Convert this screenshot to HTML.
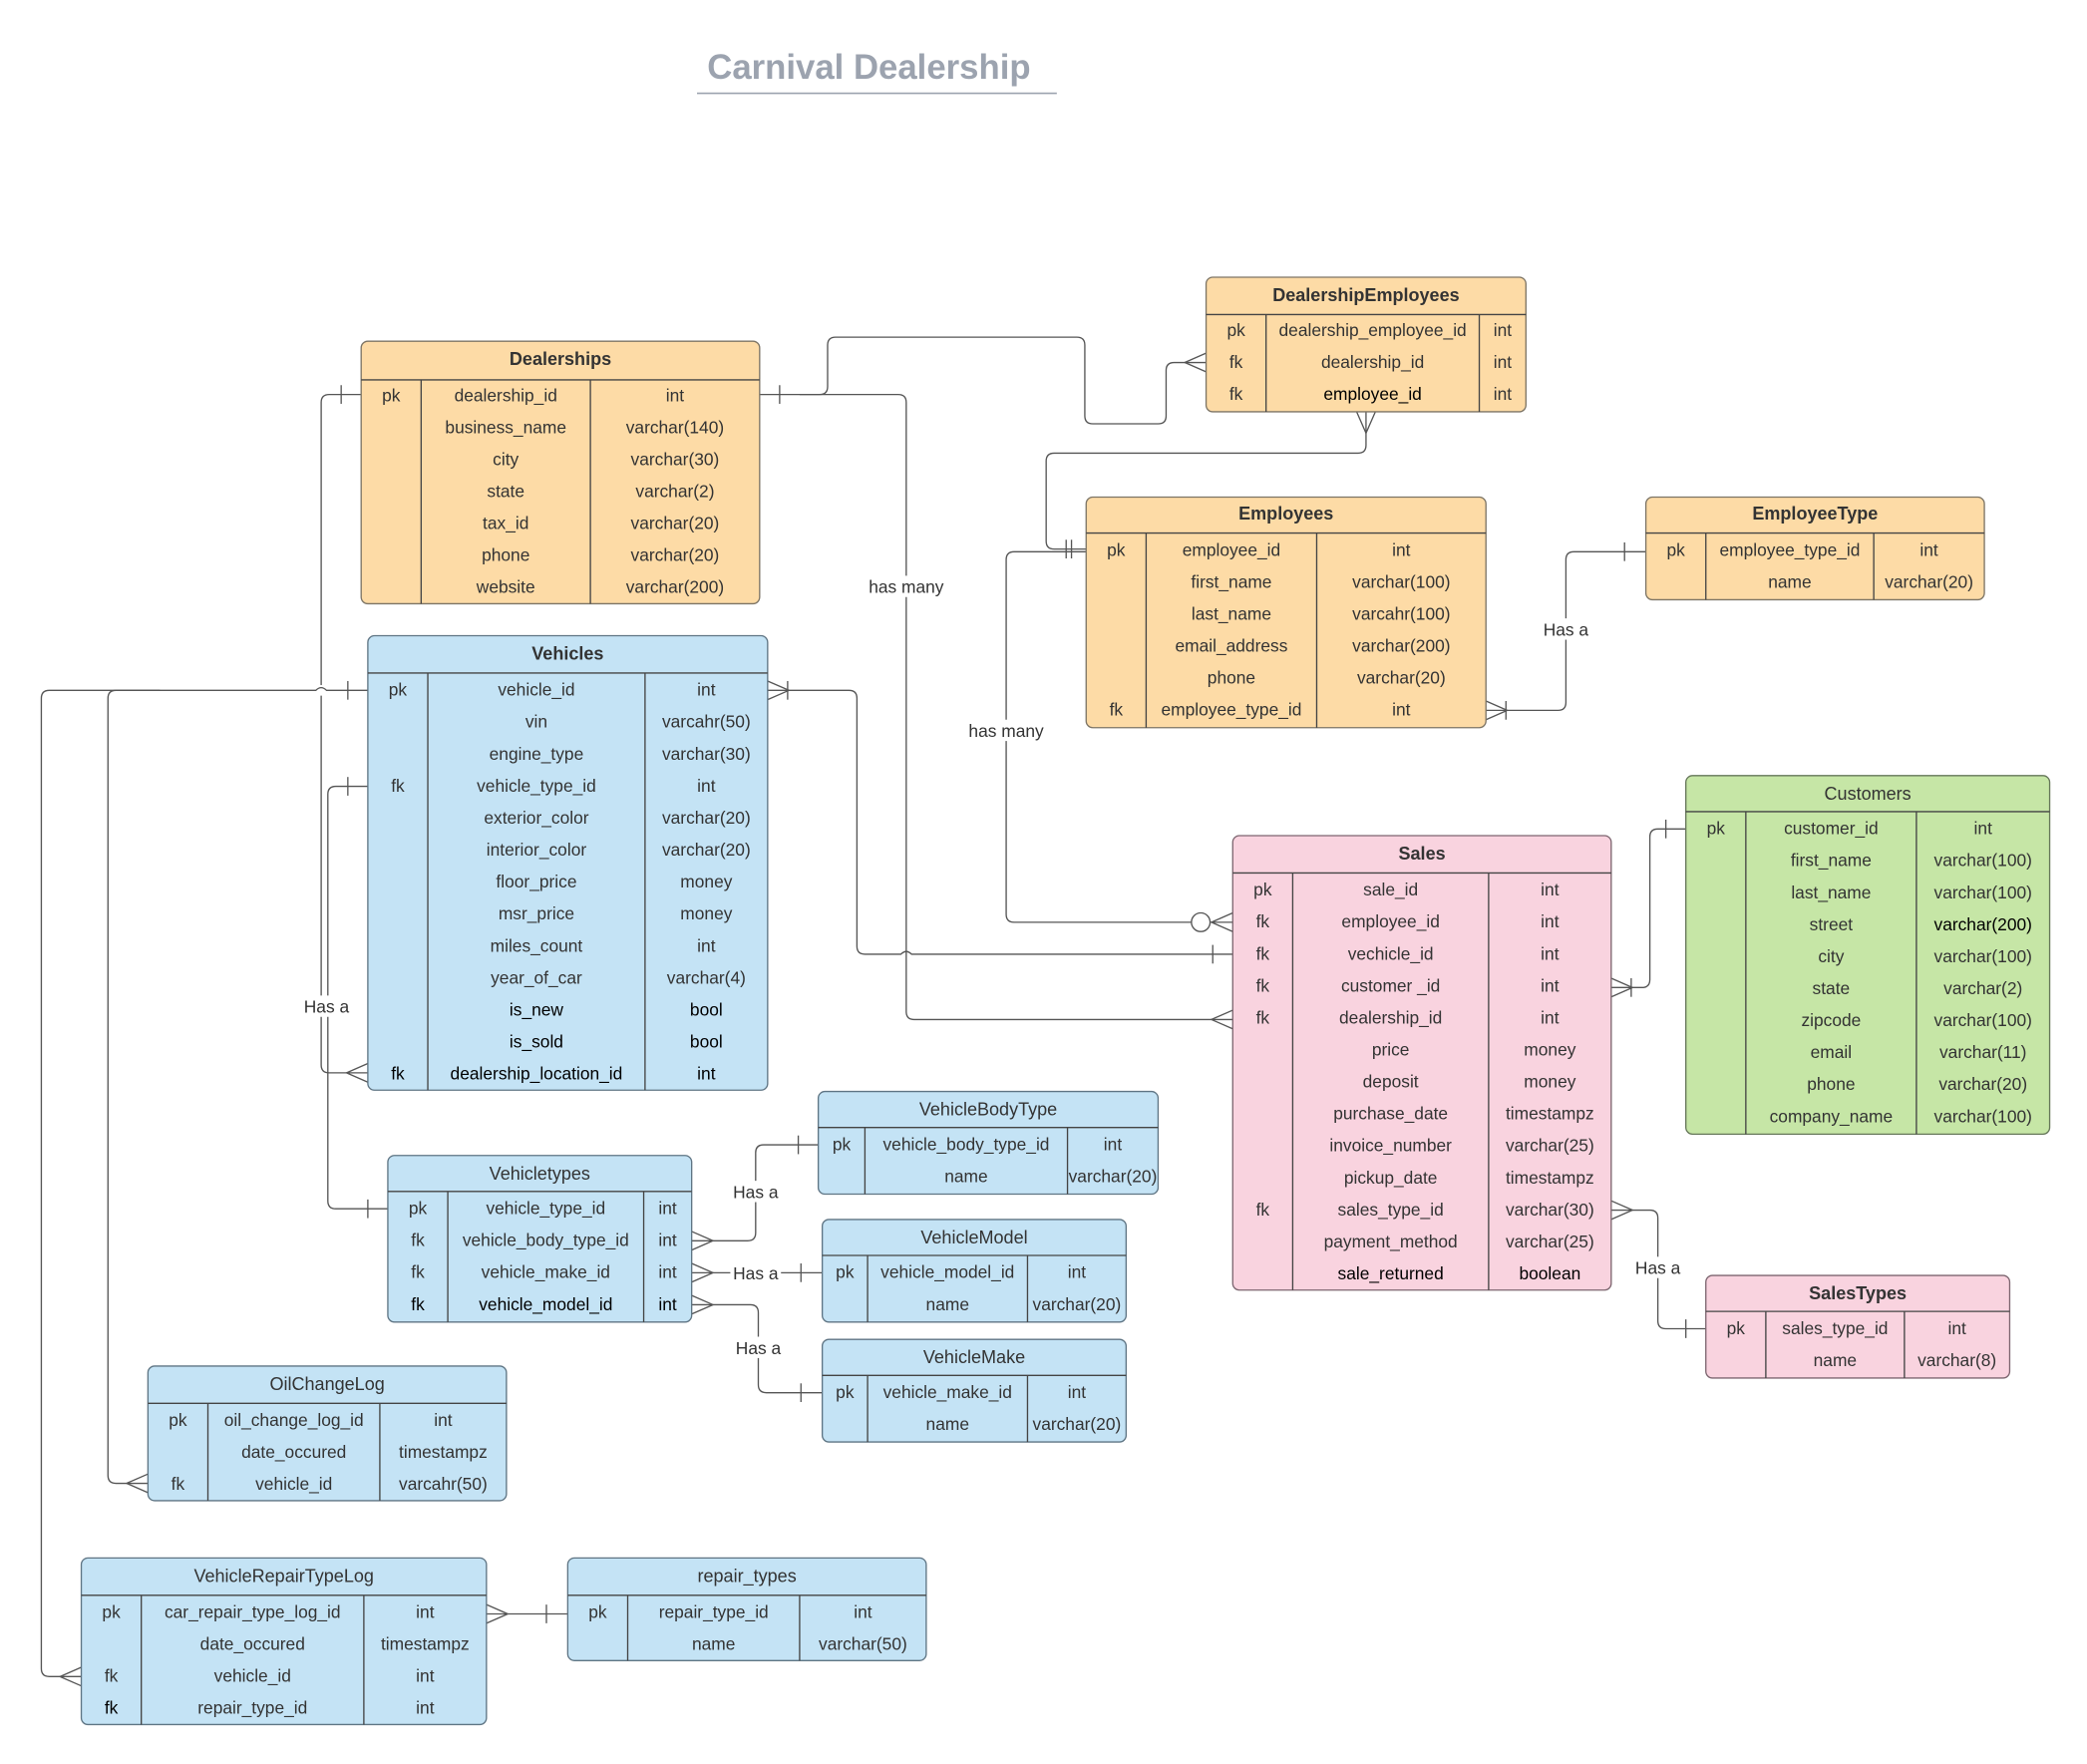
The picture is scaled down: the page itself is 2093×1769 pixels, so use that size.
<!DOCTYPE html>
<html><head><meta charset="utf-8"><style>
html,body{margin:0;padding:0;background:#fff}
svg{display:block}
text{font-family:"Liberation Sans",Arial,sans-serif;font-size:13px;fill:#333;text-anchor:middle}
.h{font-size:13.5px}
.b{font-weight:bold}
.o{fill:#FDDBA6;stroke:#7d7566}
.bl{fill:#C4E3F5;stroke:#5f7584}
.p{fill:#F9D3DF;stroke:#7d6670}
.g{fill:#C6E6A6;stroke:#66775a}
.ln{stroke:#444;stroke-width:1;fill:none}
.tl{stroke:#555;stroke-width:1;fill:none}
.lbl{fill:#fff;stroke:none}
</style></head><body>
<svg width="2093" height="1769" viewBox="0 0 1566 1323.6" xmlns="http://www.w3.org/2000/svg">
<text x="652" y="59" class="b" style="font-size:26px;fill:#9ca3af">Carnival Dealership</text>
<line x1="523" y1="70" x2="793" y2="70" stroke="#9ca3af" stroke-width="1.2"/>

<!-- connectors -->
<g class="tl">
<!-- Dealerships -> Sales dealership_id -->
<path d="M570 296 H674 Q680 296 680 302 V759 Q680 765 686 765 H925"/>
<path d="M925 758 L909 765 L925 772"/>
<line x1="585" y1="289" x2="585" y2="303"/>
<!-- Dealerships -> DealershipEmployees -->
<path d="M600 296 H615 Q621 296 621 290 V259 Q621 253 627 253 H808 Q814 253 814 259 V312 Q814 318 820 318 H869 Q875 318 875 312 V278 Q875 272 881 272 H905"/>
<path d="M905 265 L889 272 L905 279"/>
<!-- DealershipEmployees -> Employees -->
<path d="M1025 309 V334 Q1025 340 1019 340 H791 Q785 340 785 346 V406 Q785 412 791 412 H815"/>
<path d="M1018 309 L1025 325 L1032 309"/>
<line x1="800" y1="405" x2="800" y2="419"/><line x1="804" y1="405" x2="804" y2="419"/>
<!-- Employees -> Sales employee_id -->
<path d="M815 414 H761 Q755 414 755 420 V686 Q755 692 761 692 H894"/>
<circle cx="901" cy="692" r="7" fill="#fff"/>
<path d="M908 692 H925 M925 685 L909 692 L925 699"/>
<!-- Employees -> EmployeeType -->
<path d="M1115 533 H1169 Q1175 533 1175 527 V420 Q1175 414 1181 414 H1235"/>
<path d="M1115 526 L1131 533 L1115 540"/><line x1="1130" y1="526" x2="1130" y2="540"/>
<line x1="1219" y1="407" x2="1219" y2="421"/>
<!-- Customers -> Sales -->
<path d="M1265 622 H1244 Q1238 622 1238 628 V735 Q1238 741 1232 741 H1209"/>
<line x1="1250" y1="615" x2="1250" y2="629"/>
<path d="M1209 734 L1225 741 L1209 748"/><line x1="1224" y1="734" x2="1224" y2="748"/>
<!-- Sales -> SalesTypes -->
<path d="M1209 908 H1238 Q1244 908 1244 914 V991 Q1244 997 1250 997 H1280"/>
<path d="M1209 901 L1225 908 L1209 915"/>
<line x1="1265" y1="990" x2="1265" y2="1004"/>
<!-- Vehicles -> Sales vehicle_id -->
<path d="M576 518 H637 Q643 518 643 524 V710 Q643 716 649 716 H676 Q680 712 684 716 H925"/>
<path d="M576 511 L592 518 L576 525"/><line x1="591" y1="511" x2="591" y2="525"/>
<line x1="910" y1="709" x2="910" y2="723"/>
<!-- Vehicles pk -> logs -->
<path d="M276 518 H245 Q241 514 237 518 H37 Q31 518 31 524 V1252 Q31 1258 37 1258 H61"/>
<path d="M61 1251 L45 1258 L61 1265"/>
<path d="M120 518 H87 Q81 518 81 524 V1107 Q81 1113 87 1113 H111"/>
<path d="M111 1106 L95 1113 L111 1120"/>
<line x1="261" y1="511" x2="261" y2="525"/>
<!-- Dealerships -> Vehicles dealership_location_id -->
<path d="M271 296 H247 Q241 296 241 302 V514 M241 522 V799 Q241 805 247 805 H276"/>
<line x1="256" y1="289" x2="256" y2="303"/>
<path d="M276 798 L260 805 L276 812"/>
<!-- Vehicles vehicle_type_id -> Vehicletypes -->
<path d="M276 590 H252 Q246 590 246 596 V901 Q246 907 252 907 H291"/>
<line x1="261" y1="583" x2="261" y2="597"/>
<line x1="276" y1="900" x2="276" y2="914"/>
<!-- Vehicletypes -> VehicleBodyType -->
<path d="M519 931 H561 Q567 931 567 925 V865 Q567 859 573 859 H614"/>
<path d="M519 924 L535 931 L519 938"/>
<line x1="599" y1="852" x2="599" y2="866"/>
<!-- Vehicletypes -> VehicleModel -->
<path d="M519 955 H617"/>
<path d="M519 948 L535 955 L519 962"/>
<line x1="601" y1="948" x2="601" y2="962"/>
<!-- Vehicletypes -> VehicleMake -->
<path d="M519 979 H563 Q569 979 569 985 V1039 Q569 1045 575 1045 H617"/>
<path d="M519 972 L535 979 L519 986"/>
<line x1="601" y1="1038" x2="601" y2="1052"/>
<!-- VRTL -> repair_types -->
<path d="M365 1211 H426"/>
<path d="M365 1204 L381 1211 L365 1218"/>
<line x1="410" y1="1204" x2="410" y2="1218"/>
</g>
<!-- connector labels -->
<rect class="lbl" x="650" y="432" width="61" height="16"/><text x="680" y="445">has many</text>
<rect class="lbl" x="725" y="540" width="61" height="16"/><text x="755" y="553">has many</text>
<rect class="lbl" x="1156" y="464" width="38" height="16"/><text x="1175" y="477">Has a</text>
<rect class="lbl" x="1225" y="943" width="38" height="16"/><text x="1244" y="956">Has a</text>
<rect class="lbl" x="226" y="747" width="38" height="16"/><text x="245" y="760">Has a</text>
<rect class="lbl" x="548" y="886" width="38" height="16"/><text x="567" y="899">Has a</text>
<rect class="lbl" x="548" y="947" width="38" height="16"/><text x="567" y="960">Has a</text>
<rect class="lbl" x="550" y="1003" width="38" height="16"/><text x="569" y="1016">Has a</text>

<!-- Dealerships -->
<rect class="o" x="271" y="256" width="299" height="197" rx="5"/>
<path class="ln" d="M271 285 H570 M316 285 V453 M443 285 V453"/>
<text x="420.5" y="274" class="b h">Dealerships</text>
<text x="293.5" y="301">pk</text><text x="379.5" y="301">dealership_id</text><text x="506.5" y="301">int</text>
<text x="379.5" y="325">business_name</text><text x="506.5" y="325">varchar(140)</text>
<text x="379.5" y="349">city</text><text x="506.5" y="349">varchar(30)</text>
<text x="379.5" y="373">state</text><text x="506.5" y="373">varchar(2)</text>
<text x="379.5" y="397">tax_id</text><text x="506.5" y="397">varchar(20)</text>
<text x="379.5" y="421">phone</text><text x="506.5" y="421">varchar(20)</text>
<text x="379.5" y="445">website</text><text x="506.5" y="445">varchar(200)</text>

<!-- DealershipEmployees -->
<rect class="o" x="905" y="208" width="240" height="101" rx="5"/>
<path class="ln" d="M905 236 H1145 M950 236 V309 M1110 236 V309"/>
<text x="1025" y="226" class="b h">DealershipEmployees</text>
<text x="927.5" y="252">pk</text><text x="1030" y="252">dealership_employee_id</text><text x="1127.5" y="252">int</text>
<text x="927.5" y="276">fk</text><text x="1030" y="276">dealership_id</text><text x="1127.5" y="276">int</text>
<text x="927.5" y="300">fk</text><text x="1030" y="300" style="fill:#000">employee_id</text><text x="1127.5" y="300">int</text>

<!-- Employees -->
<rect class="o" x="815" y="373" width="300" height="173" rx="5"/>
<path class="ln" d="M815 400 H1115 M860 400 V546 M988 400 V546"/>
<text x="965" y="390" class="b h">Employees</text>
<text x="837.5" y="417">pk</text><text x="924" y="417">employee_id</text><text x="1051.5" y="417">int</text>
<text x="924" y="441">first_name</text><text x="1051.5" y="441">varchar(100)</text>
<text x="924" y="465">last_name</text><text x="1051.5" y="465">varcahr(100)</text>
<text x="924" y="489">email_address</text><text x="1051.5" y="489">varchar(200)</text>
<text x="924" y="513">phone</text><text x="1051.5" y="513">varchar(20)</text>
<text x="837.5" y="537">fk</text><text x="924" y="537">employee_type_id</text><text x="1051.5" y="537">int</text>

<!-- EmployeeType -->
<rect class="o" x="1235" y="373" width="254" height="77" rx="5"/>
<path class="ln" d="M1235 400 H1489 M1280 400 V450 M1406 400 V450"/>
<text x="1362" y="390" class="b h">EmployeeType</text>
<text x="1257.5" y="417">pk</text><text x="1343" y="417">employee_type_id</text><text x="1447.5" y="417">int</text>
<text x="1343" y="441">name</text><text x="1447.5" y="441">varchar(20)</text>

<!-- Vehicles -->
<rect class="bl" x="276" y="477" width="300" height="341" rx="5"/>
<path class="ln" d="M276 505 H576 M321 505 V818 M484 505 V818"/>
<text x="426" y="495" class="b h">Vehicles</text>
<text x="298.5" y="522">pk</text><text x="402.5" y="522">vehicle_id</text><text x="530" y="522">int</text>
<text x="402.5" y="546">vin</text><text x="530" y="546">varcahr(50)</text>
<text x="402.5" y="570">engine_type</text><text x="530" y="570">varchar(30)</text>
<text x="298.5" y="594">fk</text><text x="402.5" y="594">vehicle_type_id</text><text x="530" y="594">int</text>
<text x="402.5" y="618">exterior_color</text><text x="530" y="618">varchar(20)</text>
<text x="402.5" y="642">interior_color</text><text x="530" y="642">varchar(20)</text>
<text x="402.5" y="666">floor_price</text><text x="530" y="666">money</text>
<text x="402.5" y="690">msr_price</text><text x="530" y="690">money</text>
<text x="402.5" y="714">miles_count</text><text x="530" y="714">int</text>
<text x="402.5" y="738">year_of_car</text><text x="530" y="738">varchar(4)</text>
<text x="402.5" y="762" style="fill:#000">is_new</text><text x="530" y="762" style="fill:#000">bool</text>
<text x="402.5" y="786" style="fill:#000">is_sold</text><text x="530" y="786" style="fill:#000">bool</text>
<text x="298.5" y="810" style="fill:#000">fk</text><text x="402.5" y="810" style="fill:#000">dealership_location_id</text><text x="530" y="810" style="fill:#000">int</text>

<!-- Customers -->
<rect class="g" x="1265" y="582" width="273" height="269" rx="5"/>
<path class="ln" d="M1265 609 H1538 M1310 609 V851 M1438 609 V851"/>
<text x="1401.5" y="600" class="h">Customers</text>
<text x="1287.5" y="626">pk</text><text x="1374" y="626">customer_id</text><text x="1488" y="626">int</text>
<text x="1374" y="650">first_name</text><text x="1488" y="650">varchar(100)</text>
<text x="1374" y="674">last_name</text><text x="1488" y="674">varchar(100)</text>
<text x="1374" y="698">street</text><text x="1488" y="698" style="fill:#000">varchar(200)</text>
<text x="1374" y="722">city</text><text x="1488" y="722">varchar(100)</text>
<text x="1374" y="746">state</text><text x="1488" y="746">varchar(2)</text>
<text x="1374" y="770">zipcode</text><text x="1488" y="770">varchar(100)</text>
<text x="1374" y="794">email</text><text x="1488" y="794">varchar(11)</text>
<text x="1374" y="818">phone</text><text x="1488" y="818">varchar(20)</text>
<text x="1374" y="842">company_name</text><text x="1488" y="842">varchar(100)</text>

<!-- Sales -->
<rect class="p" x="925" y="627" width="284" height="341" rx="5"/>
<path class="ln" d="M925 655 H1209 M970 655 V968 M1117 655 V968"/>
<text x="1067" y="645" class="b h">Sales</text>
<text x="947.5" y="672">pk</text><text x="1043.5" y="672">sale_id</text><text x="1163" y="672">int</text>
<text x="947.5" y="696">fk</text><text x="1043.5" y="696">employee_id</text><text x="1163" y="696">int</text>
<text x="947.5" y="720">fk</text><text x="1043.5" y="720">vechicle_id</text><text x="1163" y="720">int</text>
<text x="947.5" y="744">fk</text><text x="1043.5" y="744">customer _id</text><text x="1163" y="744">int</text>
<text x="947.5" y="768">fk</text><text x="1043.5" y="768">dealership_id</text><text x="1163" y="768">int</text>
<text x="1043.5" y="792">price</text><text x="1163" y="792">money</text>
<text x="1043.5" y="816">deposit</text><text x="1163" y="816">money</text>
<text x="1043.5" y="840">purchase_date</text><text x="1163" y="840">timestampz</text>
<text x="1043.5" y="864">invoice_number</text><text x="1163" y="864">varchar(25)</text>
<text x="1043.5" y="888">pickup_date</text><text x="1163" y="888">timestampz</text>
<text x="947.5" y="912">fk</text><text x="1043.5" y="912">sales_type_id</text><text x="1163" y="912">varchar(30)</text>
<text x="1043.5" y="936">payment_method</text><text x="1163" y="936">varchar(25)</text>
<text x="1043.5" y="960" style="fill:#000">sale_returned</text><text x="1163" y="960" style="fill:#000">boolean</text>

<!-- VehicleBodyType -->
<rect class="bl" x="614" y="819" width="255" height="77" rx="5"/>
<path class="ln" d="M614 846 H869 M649 846 V896 M801 846 V896"/>
<text x="741.5" y="837" class="h">VehicleBodyType</text>
<text x="631.5" y="863">pk</text><text x="725" y="863">vehicle_body_type_id</text><text x="835" y="863">int</text>
<text x="725" y="887">name</text><text x="835" y="887">varchar(20)</text>

<!-- Vehicletypes -->
<rect class="bl" x="291" y="867" width="228" height="125" rx="5"/>
<path class="ln" d="M291 894 H519 M336 894 V992 M483 894 V992"/>
<text x="405" y="885" class="h">Vehicletypes</text>
<text x="313.5" y="911">pk</text><text x="409.5" y="911">vehicle_type_id</text><text x="501" y="911">int</text>
<text x="313.5" y="935">fk</text><text x="409.5" y="935">vehicle_body_type_id</text><text x="501" y="935">int</text>
<text x="313.5" y="959">fk</text><text x="409.5" y="959">vehicle_make_id</text><text x="501" y="959">int</text>
<text x="313.5" y="983" style="fill:#000">fk</text><text x="409.5" y="983" style="fill:#000">vehicle_model_id</text><text x="501" y="983" style="fill:#000">int</text>

<!-- VehicleModel -->
<rect class="bl" x="617" y="915" width="228" height="77" rx="5"/>
<path class="ln" d="M617 942 H845 M651 942 V992 M771 942 V992"/>
<text x="731" y="933" class="h">VehicleModel</text>
<text x="634" y="959">pk</text><text x="711" y="959">vehicle_model_id</text><text x="808" y="959">int</text>
<text x="711" y="983">name</text><text x="808" y="983">varchar(20)</text>

<!-- VehicleMake -->
<rect class="bl" x="617" y="1005" width="228" height="77" rx="5"/>
<path class="ln" d="M617 1032 H845 M651 1032 V1082 M771 1032 V1082"/>
<text x="731" y="1023" class="h">VehicleMake</text>
<text x="634" y="1049">pk</text><text x="711" y="1049">vehicle_make_id</text><text x="808" y="1049">int</text>
<text x="711" y="1073">name</text><text x="808" y="1073">varchar(20)</text>

<!-- SalesTypes -->
<rect class="p" x="1280" y="957" width="228" height="77" rx="5"/>
<path class="ln" d="M1280 984 H1508 M1325 984 V1034 M1429 984 V1034"/>
<text x="1394" y="975" class="b h">SalesTypes</text>
<text x="1302.5" y="1001">pk</text><text x="1377" y="1001">sales_type_id</text><text x="1468.5" y="1001">int</text>
<text x="1377" y="1025">name</text><text x="1468.5" y="1025">varchar(8)</text>

<!-- OilChangeLog -->
<rect class="bl" x="111" y="1025" width="269" height="101" rx="5"/>
<path class="ln" d="M111 1053 H380 M156 1053 V1126 M285 1053 V1126"/>
<text x="245.5" y="1043" class="h">OilChangeLog</text>
<text x="133.5" y="1070">pk</text><text x="220.5" y="1070">oil_change_log_id</text><text x="332.5" y="1070">int</text>
<text x="220.5" y="1094">date_occured</text><text x="332.5" y="1094">timestampz</text>
<text x="133.5" y="1118">fk</text><text x="220.5" y="1118">vehicle_id</text><text x="332.5" y="1118">varcahr(50)</text>

<!-- VehicleRepairTypeLog -->
<rect class="bl" x="61" y="1169" width="304" height="125" rx="5"/>
<path class="ln" d="M61 1197 H365 M106 1197 V1294 M273 1197 V1294"/>
<text x="213" y="1187" class="h">VehicleRepairTypeLog</text>
<text x="83.5" y="1214">pk</text><text x="189.5" y="1214">car_repair_type_log_id</text><text x="319" y="1214">int</text>
<text x="189.5" y="1238">date_occured</text><text x="319" y="1238">timestampz</text>
<text x="83.5" y="1262">fk</text><text x="189.5" y="1262">vehicle_id</text><text x="319" y="1262">int</text>
<text x="83.5" y="1286" style="fill:#000">fk</text><text x="189.5" y="1286">repair_type_id</text><text x="319" y="1286">int</text>

<!-- repair_types -->
<rect class="bl" x="426" y="1169" width="269" height="77" rx="5"/>
<path class="ln" d="M426 1197 H695 M471 1197 V1246 M600 1197 V1246"/>
<text x="560.5" y="1187" class="h">repair_types</text>
<text x="448.5" y="1214">pk</text><text x="535.5" y="1214">repair_type_id</text><text x="647.5" y="1214">int</text>
<text x="535.5" y="1238">name</text><text x="647.5" y="1238">varchar(50)</text>
</svg>
</body></html>
